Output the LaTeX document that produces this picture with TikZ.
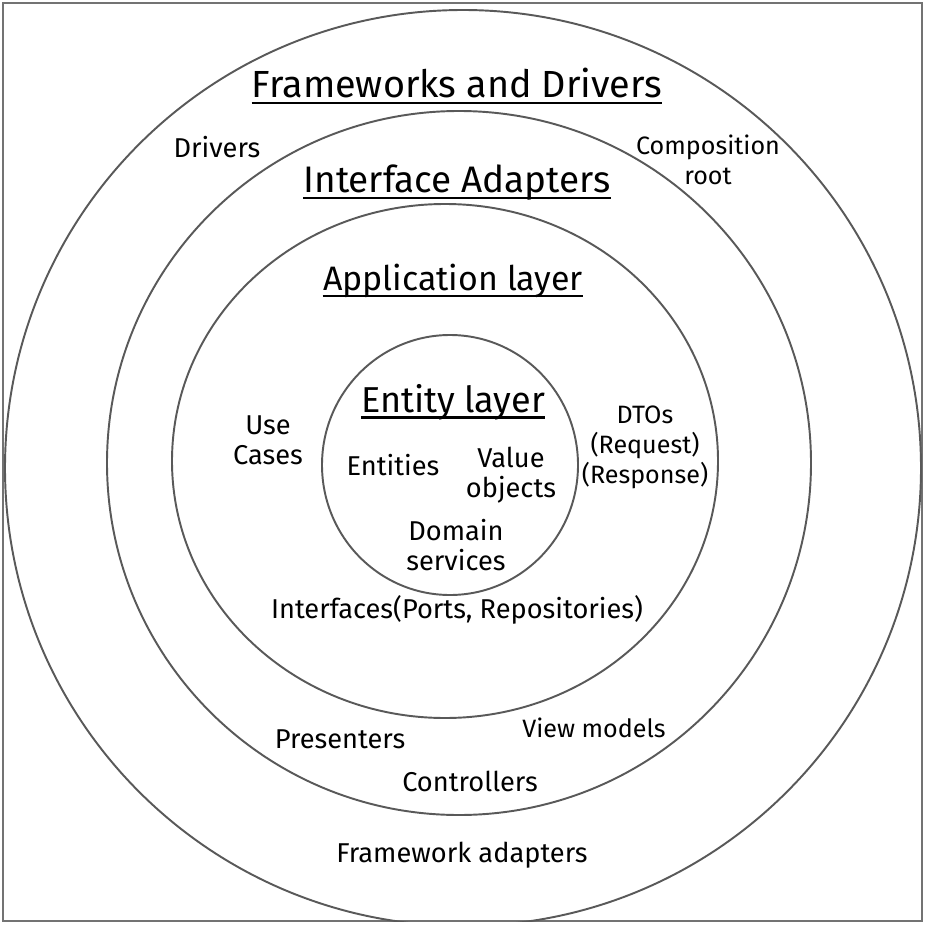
\documentclass[tikz,border=0pt]{standalone}
\usepackage{fontspec}
\setmainfont{Fira Sans}

\begin{document}
\begin{tikzpicture}[x=0.02cm,y=-0.02cm,
    ring/.style={draw=black!65,line width=1.1pt},
    head/.style={font=\fontsize{#1}{22}\selectfont,inner sep=0pt},
    txt/.style={font=\fontsize{15.5}{17}\selectfont,align=center,inner sep=0pt},
    small/.style={txt,font=\fontsize{14.3}{17}\selectfont},
    uline/.style={line width=1.4pt}]
  \useasboundingbox (0,0) rectangle (926,926);
  \draw[black!55,line width=0.8pt] (3,3) rectangle (922,921);
  % rings
  \begin{scope}
    \clip (3,3) rectangle (922,921);
    \draw[ring] (463,468) circle [radius=458];
  \end{scope}
  \draw[ring] (459,463) circle [radius=352];
  \draw[ring] (445,461) ellipse [x radius=273,y radius=257];
  \draw[ring] (450,465) ellipse [x radius=128,y radius=130];
  % layer titles
  \node[head=21.5] (fd) at (457,83) {Frameworks and Drivers};
  \node[head=21] (ia) at (457,183) {Interface Adapters};
  \node[head=19.3] (al) at (453,281) {Application layer};
  \node[head=20.5] (el) at (453,402) {Entity layer};
  \foreach \n in {fd,ia,al,el}
    \draw[uline] ([yshift=-3pt]\n.base west) -- ([yshift=-3pt]\n.base east);
  % contents
  \node[txt] (drv) at (217,147) {Drivers};
  \node[small] (cr) at (708,160) {Composition\\root};
  \node[txt] (uc) at (268,440) {Use\\Cases};
  \node[txt] (ent) at (393,465) {Entities};
  \node[txt] (vo) at (511,475) {Value\\objects};
  \node[txt] (ds) at (456,545) {Domain\\services};
  \node[small] (dto) at (645,447) {DTOs\\(Request)\\(Response)};
  \node[txt] (ifc) at (457,610) {Interfaces(Ports, Repositories)};
  \node[txt] (pr) at (340,739) {Presenters};
  \node[small] (vm) at (594,728) {View models};
  \node[txt] (ctl) at (470,781) {Controllers};
  \node[txt] (fa) at (462,855) {Framework adapters};
\end{tikzpicture}
\end{document}
